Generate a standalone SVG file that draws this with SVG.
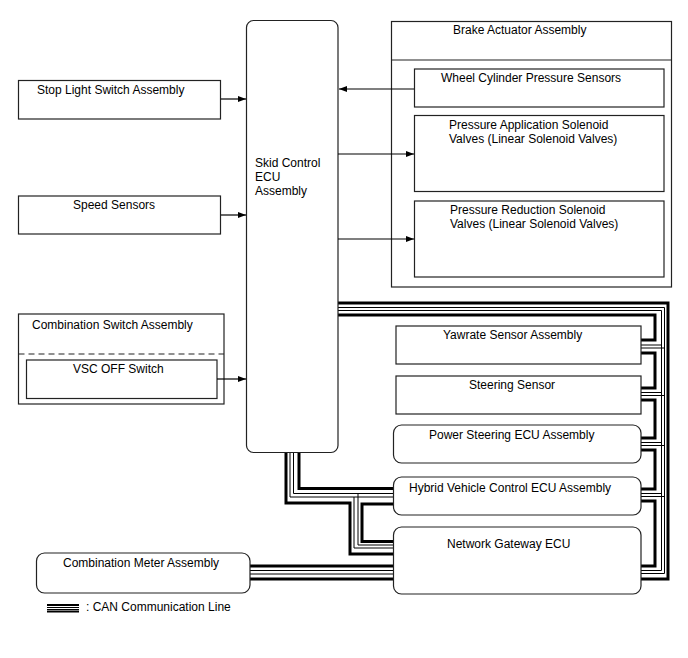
<svg xmlns="http://www.w3.org/2000/svg" width="688" height="658" viewBox="0 0 688 658">
<defs>
<marker id="arr" markerUnits="userSpaceOnUse" markerWidth="9" markerHeight="7" refX="8" refY="3" orient="auto">
<path d="M0,0 L8,3 L0,6 z" fill="#000"/>
</marker>
<style>
.box{fill:#fff;stroke:#222;stroke-width:1.2}
.lbl{font-family:"Liberation Sans",Arial,sans-serif;font-size:12px;fill:#000}
.arrow{stroke:#000;stroke-width:1.2;fill:none;marker-end:url(#arr)}
.thick{stroke:#000;stroke-width:3;fill:none}
.thin{stroke:#000;stroke-width:1;fill:none}
.dash{stroke:#222;stroke-width:1.2;stroke-dasharray:6,4;fill:none}
</style>
</defs>
<rect width="688" height="658" fill="#fff"/>

<g id="can-lines">
<!-- right bus -->
<path class="thick" d="M338,303 H668 V579 H641"/>
<path class="thin" d="M338,307.5 H664.5 V573.5 H641"/>
<path class="thin" d="M338,310.5 H661.5 V570.5 H641"/>
<path class="thick" d="M338,315 H655 V340 H641"/>
<path class="thick" d="M641,353 H655 V388 H641"/>
<path class="thick" d="M641,400 H655 V438 H641"/>
<path class="thick" d="M641,450 H655 V489 H641"/>
<path class="thick" d="M641,501 H655 V566 H641"/>
<path class="thin" d="M641,345 H661.5 M641,348 H664.5"/>
<path class="thin" d="M641,392.5 H661.5 M641,395.5 H664.5"/>
<path class="thin" d="M641,442.5 H661.5 M641,445.5 H664.5"/>
<path class="thin" d="M641,493.5 H661.5 M641,496.5 H664.5"/>
<!-- left bus -->
<path class="thick" d="M286,452 V503 H350 V554 H395"/>
<path class="thin" d="M290,452 V497 H393 M354,497 V548 H395"/>
<path class="thin" d="M293.5,452 V493.5 H393 M358,493.5 V545 H395"/>
<path class="thick" d="M299,452 V488.5 H393"/>
<path class="thick" d="M393,504 H362 V541.5 H395"/>
<!-- combination meter -->
<path class="thick" d="M250,566 H395 M250,579 H395"/>
<path class="thin" d="M250,570.5 H395 M250,574 H395"/>
<!-- legend -->
<path stroke="#000" stroke-width="2" d="M47,605 H79 M47,611.5 H79"/>
<path stroke="#000" stroke-width="1" d="M47,607.5 H79 M47,609.5 H79"/>
</g>

<g id="skid-ecu">
<rect class="box" x="246.5" y="20.5" width="91.5" height="432" rx="7"/>
<text class="lbl" x="255" y="167">Skid Control</text>
<text class="lbl" x="255" y="181">ECU</text>
<text class="lbl" x="255" y="195">Assembly</text>
</g>

<g id="brake-actuator">
<rect x="391.5" y="21.5" width="280" height="265.5" fill="#fff" stroke="#222" stroke-width="1.2"/>
<line x1="391.5" y1="60" x2="671.5" y2="60" stroke="#222" stroke-width="1.2"/>
<text class="lbl" x="453" y="34">Brake Actuator Assembly</text>
</g>

<g id="wheel-cyl">
<rect class="box" x="414.5" y="69" width="249.5" height="38"/>
<text class="lbl" x="441" y="82">Wheel Cylinder Pressure Sensors</text>
</g>

<g id="press-app">
<rect class="box" x="414.5" y="115.5" width="249.5" height="76"/>
<text class="lbl" x="449" y="129">Pressure Application Solenoid</text>
<text class="lbl" x="449" y="143">Valves (Linear Solenoid Valves)</text>
</g>

<g id="press-red">
<rect class="box" x="414.5" y="201" width="249.5" height="76"/>
<text class="lbl" x="450" y="213.5">Pressure Reduction Solenoid</text>
<text class="lbl" x="450" y="227.5">Valves (Linear Solenoid Valves)</text>
</g>

<g id="stop-light">
<rect class="box" x="18.5" y="80.5" width="202" height="38.5"/>
<text class="lbl" x="37" y="93.5">Stop Light Switch Assembly</text>
</g>

<g id="speed-sensors">
<rect class="box" x="18.5" y="196" width="202" height="38"/>
<text class="lbl" x="73" y="209">Speed Sensors</text>
</g>

<g id="comb-switch">
<rect class="box" x="18.5" y="314" width="205.5" height="90"/>
<line class="dash" x1="18.5" y1="354" x2="224" y2="354"/>
<text class="lbl" x="32" y="329">Combination Switch Assembly</text>
</g>

<g id="vsc-off">
<rect class="box" x="26.5" y="360" width="190.5" height="38.5"/>
<text class="lbl" x="73" y="373">VSC OFF Switch</text>
</g>

<g id="yawrate">
<rect class="box" x="396" y="326" width="245" height="38"/>
<text class="lbl" x="443" y="339">Yawrate Sensor Assembly</text>
</g>

<g id="steering">
<rect class="box" x="396" y="376" width="245" height="38"/>
<text class="lbl" x="469" y="389">Steering Sensor</text>
</g>

<g id="power-steering">
<rect class="box" x="393.5" y="425" width="247.5" height="38" rx="8"/>
<text class="lbl" x="429" y="439">Power Steering ECU Assembly</text>
</g>

<g id="hv-ecu">
<rect class="box" x="393.5" y="477" width="247.5" height="38" rx="8"/>
<text class="lbl" x="409" y="492">Hybrid Vehicle Control ECU Assembly</text>
</g>

<g id="gateway">
<rect class="box" x="393.5" y="527" width="247.5" height="67" rx="8"/>
<text class="lbl" x="447" y="548">Network Gateway ECU</text>
</g>

<g id="comb-meter">
<rect class="box" x="36.5" y="553" width="213.5" height="40" rx="8"/>
<text class="lbl" x="63" y="567">Combination Meter Assembly</text>
</g>

<g id="legend">
<text class="lbl" x="86" y="611">: CAN Communication Line</text>
</g>

<g id="connectors">
<path class="arrow" d="M221,99 H246"/>
<path class="arrow" d="M221,215 H246"/>
<path class="arrow" d="M217,379 H246"/>
<path class="arrow" d="M414,89 H339"/>
<path class="arrow" d="M338,154 H414"/>
<path class="arrow" d="M338,239 H414"/>
</g>
</svg>
